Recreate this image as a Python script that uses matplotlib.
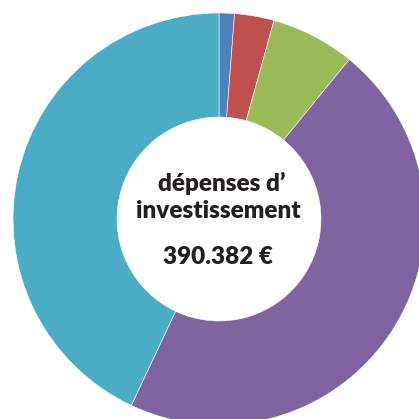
import matplotlib
matplotlib.use("Agg")
import matplotlib.pyplot as plt

labels = ["A", "B", "C", "D", "E"]
values = [1.2, 3.1, 6.6, 46.1, 43.0]
colors = ["#4F81BD", "#C0504D", "#9BBB59", "#8064A2", "#4BACC6"]
title_lines = ["dépenses d’", "investissement"]
total_text = "390.382 €"

fig = plt.figure(figsize=(4.19, 4.19), dpi=100)
ax = fig.add_axes([0, 0, 1, 1])
ax.pie(values, colors=colors, startangle=90, counterclock=False, radius=1.0,
       wedgeprops=dict(width=0.505, edgecolor="white", linewidth=0.4))
cx, cy, R = 219, 219, 206
ax.set_xlim(-cx / R, (419 - cx) / R)
ax.set_ylim(-(419 - cy) / R, cy / R)
ax.set_aspect("auto")
ax.axis("off")

fam = ["Lato", "DejaVu Sans"]
ax.text((222 - cx) / R, (cy - 183) / R, title_lines[0], ha="center", va="center",
        fontsize=17.5, fontweight="heavy", color="#231F20", family=fam)
ax.text((218 - cx) / R, (cy - 211) / R, title_lines[1], ha="center", va="center",
        fontsize=17.5, fontweight="heavy", color="#231F20", family=fam)
ax.text((218 - cx) / R, (cy - 257) / R, total_text, ha="center", va="center",
        fontsize=17.5, fontweight="heavy", color="#231F20", family=fam)

fig.savefig("out.png", dpi=100, facecolor="white")
